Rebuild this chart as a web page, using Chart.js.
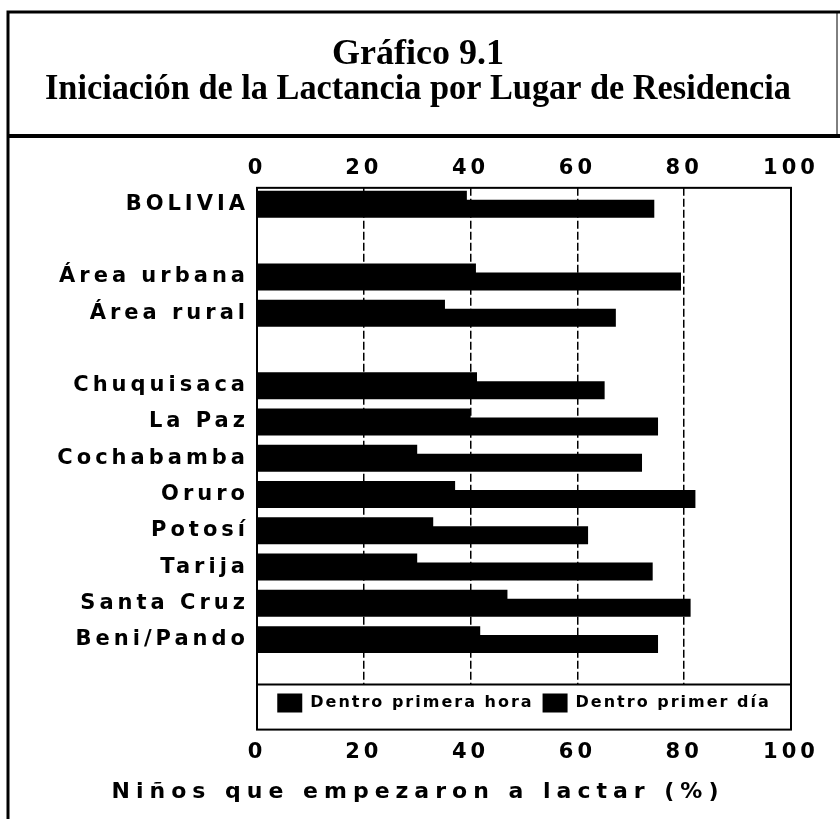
<!DOCTYPE html>
<html>
<head>
<meta charset="utf-8">
<script src="https://cdn.jsdelivr.net/npm/chart.js@4"></script>
<style>
  html, body { margin: 0; padding: 0; background: #fff; }
  canvas { display: block; }
</style>
</head>
<body>
<canvas id="lactChart" width="840" height="819"></canvas>
<script>
// Data (blank entries are the gaps between groups)
const categories = ['BOLIVIA', '', 'Área urbana', 'Área rural', '', 'Chuquisaca', 'La Paz', 'Cochabamba', 'Oruro', 'Potosí', 'Tarija', 'Santa Cruz', 'Beni/Pando'];
const firstHour = [39.3, null, 41.0, 35.2, null, 41.2, 40.0, 30.0, 37.1, 33.0, 30.0, 46.9, 41.8];
const firstDay = [74.4, null, 79.4, 67.2, null, 65.1, 75.1, 72.1, 82.1, 62.0, 74.1, 81.2, 75.1];
const xTicks = [0, 20, 40, 60, 80, 100];
const seriesNames = ['Dentro primera hora', 'Dentro primer día'];
const titleLines = ['Gráfico 9.1', 'Iniciación de la Lactancia por Lugar de Residencia'];
const axisTitle = 'Niños que empezaron a lactar (%)';

const sansBold = { family: 'DejaVu Sans', weight: 'bold', size: 21 };

function toPoints(values) {
    return values.map((v, i) => ({ x: v, y: i })).filter(p => p.x !== null);
}

// wide lettering like the original bold extended face
const spacing = {
    id: 'spacing',
    afterInit(chart) {
        const wrap = (box, sp, extraHeight) => {
            if (!box) return;
            if (box.fit) {
                const fit = box.fit.bind(box);
                box.fit = function () {
                    const ctx = chart.ctx;
                    ctx.save();
                    ctx.letterSpacing = sp;
                    fit();
                    ctx.restore();
                    if (extraHeight) this.height += extraHeight;
                };
            }
            const draw = box.draw.bind(box);
            box.draw = function (...args) {
                const ctx = chart.ctx;
                ctx.save();
                ctx.letterSpacing = sp;
                draw(...args);
                ctx.restore();
            };
        };
        wrap(chart.titleBlock, '0px');
        wrap(chart.legend, '2px', 7);
        wrap(chart.boxes.find(b => b.options && b.options.text === axisTitle), '6px');
    },
    beforeUpdate(chart) { chart.ctx.letterSpacing = '4px'; },
    beforeDraw(chart) { chart.ctx.letterSpacing = '4px'; }
};

// page frame, plot box and legend box
const frame = {
    id: 'frame',
    afterDraw(chart) {
        const { ctx, chartArea: a, legend } = chart;
        ctx.save();
        ctx.strokeStyle = '#000';
        ctx.lineWidth = 3;
        ctx.beginPath();
        ctx.moveTo(8, 819); ctx.lineTo(8, 12); ctx.lineTo(840, 12);
        ctx.stroke();
        ctx.lineWidth = 4;
        ctx.beginPath(); ctx.moveTo(8, 136); ctx.lineTo(840, 136); ctx.stroke();
        ctx.lineWidth = 1;
        ctx.beginPath(); ctx.moveTo(837, 12); ctx.lineTo(837, 136); ctx.stroke();
        ctx.lineWidth = 2;
        ctx.strokeRect(a.left, a.top, a.right - a.left, legend.bottom - a.top);
        ctx.beginPath(); ctx.moveTo(a.left, a.bottom); ctx.lineTo(a.right, a.bottom); ctx.stroke();
        ctx.restore();
    }
};

const ctx = document.getElementById('lactChart').getContext('2d');
new Chart(ctx, {
    type: 'bar',
    data: {
        datasets: [
            {
                label: seriesNames[0],
                data: toPoints(firstHour),
                backgroundColor: '#000',
                borderWidth: 0
            },
            {
                label: seriesNames[1],
                data: toPoints(firstDay),
                backgroundColor: '#000',
                borderWidth: 0
            }
        ]
    },
    options: {
        indexAxis: 'y',
        responsive: false,
        animation: false,
        events: [],
        categoryPercentage: 0.496,
        barPercentage: 2,
        layout: { padding: { left: 45, right: 49, top: 0, bottom: 0 } },
        scales: {
            y: {
                type: 'linear',
                reverse: true,
                offset: false,
                bounds: 'data',
                min: -0.455,
                max: 13.24,
                grid: { display: false },
                border: { display: false },
                afterFit(axis) { axis.width = 212; },
                afterBuildTicks(axis) { axis.ticks = categories.map((c, i) => ({ value: i })); },
                ticks: {
                    autoSkip: false,
                    padding: 0,
                    color: '#000',
                    font: sansBold,
                    callback: value => categories[value] || ''
                }
            },
            x: {
                type: 'linear',
                position: 'bottom',
                weight: 1200,
                min: xTicks[0],
                max: xTicks[xTicks.length - 1],
                grid: {
                    drawTicks: false,
                    lineWidth: 1.5,
                    color: c => (c.tick && (c.tick.value === xTicks[0] || c.tick.value === xTicks[xTicks.length - 1])) ? 'transparent' : '#000'
                },
                border: { display: false, dash: [8, 3] },
                ticks: {
                    stepSize: xTicks[1] - xTicks[0],
                    padding: 9.9,
                    color: '#000',
                    font: sansBold
                }
            },
            x2: {
                type: 'linear',
                position: 'top',
                min: xTicks[0],
                max: xTicks[xTicks.length - 1],
                grid: { display: false, drawTicks: false },
                border: { display: false },
                ticks: {
                    stepSize: xTicks[1] - xTicks[0],
                    padding: 6.4,
                    color: '#000',
                    font: sansBold
                }
            }
        },
        plugins: {
            title: {
                display: true,
                text: titleLines,
                color: '#000',
                font: { family: 'Liberation Serif', weight: 'bold', size: 36, lineHeight: 0.97 },
                padding: { top: 37, bottom: 43 }
            },
            subtitle: {
                display: true,
                position: 'bottom',
                text: axisTitle,
                color: '#000',
                font: { family: 'DejaVu Sans', weight: 'bold', size: 22 },
                padding: { top: 4, bottom: 14 }
            },
            legend: {
                position: 'bottom',
                fullSize: false,
                labels: {
                    color: '#000',
                    boxWidth: 25,
                    boxHeight: 19,
                    padding: 9,
                    font: { family: 'DejaVu Sans', weight: 'bold', size: 16 }
                }
            },
            tooltip: { enabled: false }
        }
    },
    plugins: [spacing, frame]
});
</script>
</body>
</html>
